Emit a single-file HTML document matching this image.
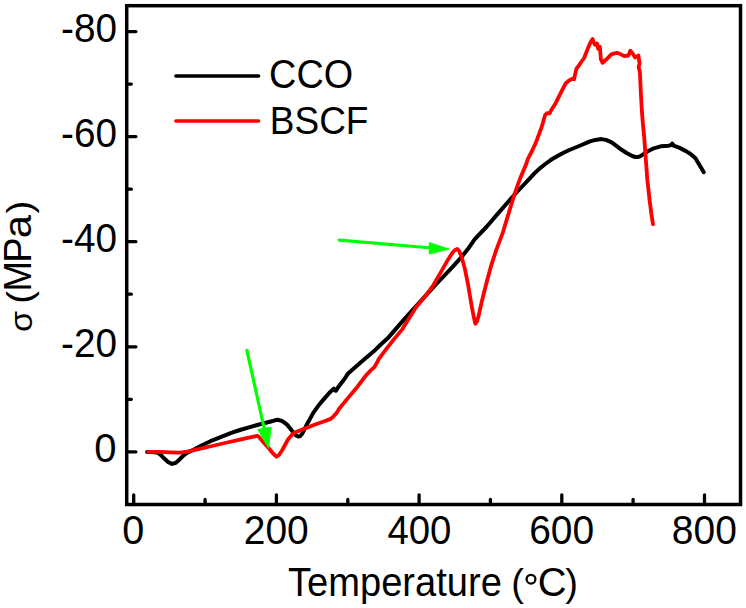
<!DOCTYPE html>
<html><head><meta charset="utf-8"><title>chart</title>
<style>
html,body{margin:0;padding:0;background:#fff;}
body{width:746px;height:608px;overflow:hidden;font-family:"Liberation Sans",sans-serif;}
svg{display:block;}
text{font-family:"Liberation Sans",sans-serif;font-size:40px;fill:#000;}
</style></head><body>
<svg width="746" height="608" viewBox="0 0 746 608">
<rect width="746" height="608" fill="#fff"/>
<g stroke="#000" stroke-width="3.3" stroke-linecap="round" fill="none">
<line x1="133.7" y1="504.5" x2="133.7" y2="494.8"/><line x1="205.1" y1="504.5" x2="205.1" y2="499.5"/><line x1="276.4" y1="504.5" x2="276.4" y2="494.8"/><line x1="347.8" y1="504.5" x2="347.8" y2="499.5"/><line x1="419.1" y1="504.5" x2="419.1" y2="494.8"/><line x1="490.4" y1="504.5" x2="490.4" y2="499.5"/><line x1="561.8" y1="504.5" x2="561.8" y2="494.8"/><line x1="633.1" y1="504.5" x2="633.1" y2="499.5"/><line x1="704.5" y1="504.5" x2="704.5" y2="494.8"/><line x1="126.7" y1="451.8" x2="135.9" y2="451.8"/><line x1="126.7" y1="399.3" x2="131.3" y2="399.3"/><line x1="126.7" y1="346.8" x2="135.9" y2="346.8"/><line x1="126.7" y1="294.2" x2="131.3" y2="294.2"/><line x1="126.7" y1="241.7" x2="135.9" y2="241.7"/><line x1="126.7" y1="189.2" x2="131.3" y2="189.2"/><line x1="126.7" y1="136.6" x2="135.9" y2="136.6"/><line x1="126.7" y1="84.1" x2="131.3" y2="84.1"/><line x1="126.7" y1="31.6" x2="135.9" y2="31.6"/>
</g>
<rect x="126.7" y="5.7" width="613.8" height="498.8" fill="none" stroke="#000" stroke-width="3.5"/>
<g>
<text transform="translate(94.30,462.40) scale(1.0000,1.0180)" style="font-size:40px">0</text>
<text transform="translate(61.06,357.35) scale(0.9685,1.0180)" style="font-size:40px">-20</text>
<text transform="translate(61.06,252.30) scale(0.9685,1.0180)" style="font-size:40px">-40</text>
<text transform="translate(61.06,147.25) scale(0.9685,1.0180)" style="font-size:40px">-60</text>
<text transform="translate(61.06,42.20) scale(0.9685,1.0180)" style="font-size:40px">-80</text>
<text transform="translate(122.32,544.00) scale(0.9895,1.0180)" style="font-size:40px">0</text>
<text transform="translate(243.75,544.00) scale(0.9746,1.0180)" style="font-size:40px">200</text>
<text transform="translate(387.44,544.00) scale(0.9594,1.0180)" style="font-size:40px">400</text>
<text transform="translate(529.15,544.00) scale(0.9746,1.0180)" style="font-size:40px">600</text>
<text transform="translate(671.85,544.00) scale(0.9746,1.0180)" style="font-size:40px">800</text>
<text transform="translate(269.11,88.40) scale(0.9447,1.0200)" style="font-size:40px">CCO</text>
<text transform="translate(269.83,134.00) scale(0.9245,0.9850)" style="font-size:40px">BSCF</text>
<text transform="translate(288.05,596.20) scale(0.9523,1.0000)" style="font-size:40px">Temperature</text>
<text transform="translate(511.25,596.20) scale(0.9500,0.9470)" style="font-size:40px">(</text>
<text transform="translate(537.81,596.30) scale(0.9960,1.0000)" style="font-size:40px">C</text>
<text transform="translate(565.35,596.20) scale(0.9500,0.9470)" style="font-size:40px">)</text>
<text transform="translate(30.80,291.49) rotate(-90) scale(0.9130,0.9750)" style="font-size:40px">M</text>
<text transform="translate(30.80,262.85) rotate(-90) scale(0.9500,0.9750)" style="font-size:40px">P</text>
<text transform="translate(30.80,238.20) rotate(-90) scale(1.0500,0.9750)" style="font-size:40px">a</text>
<text transform="translate(32.20,303.68) rotate(-90) scale(1.0971,1.0000)" style="font-size:35px">(</text>
<text transform="translate(32.20,213.57) rotate(-90) scale(1.1086,1.0000)" style="font-size:35px">)</text>
<text transform="translate(31.90,331.90) rotate(-90) scale(0.8500,0.8000)" style="font-size:40px">σ</text>
</g>
<circle cx="531" cy="579.2" r="4.4" fill="none" stroke="#000" stroke-width="2.3"/>
<g stroke-width="3.5" stroke-linecap="round" fill="none">
<line x1="175.9" y1="76" x2="258.6" y2="76" stroke="#000"/>
<line x1="175.9" y1="121.1" x2="258.6" y2="121.1" stroke="#f00"/>
</g>
<polyline points="147.1,451.9 152.0,452.0 156.0,452.4 158.5,453.2 161.0,455.2 164.0,458.3 168.0,462.0 172.0,463.9 175.5,463.0 179.0,460.0 183.0,455.8 186.5,453.2 189.0,452.0 195.0,449.0 202.0,445.3 210.5,441.2 220.0,437.4 230.6,433.2 240.0,430.0 250.7,426.8 260.0,424.2 270.8,421.5 275.0,420.3 277.6,419.8 281.0,420.6 284.0,422.3 286.8,424.4 290.0,428.2 293.0,432.0 295.5,435.0 297.8,436.4 300.0,436.2 302.0,434.0 304.1,430.0 307.0,424.0 309.7,419.4 313.4,412.6 318.3,405.8 324.5,398.4 329.4,392.8 333.8,388.6 335.2,390.6 336.0,390.8 338.1,387.3 345.0,378.3 348.1,373.4 362.6,360.7 375.3,349.9 380.0,345.3 387.9,338.1 399.8,324.4 408.0,315.2 416.2,306.1 425.0,296.3 434.3,286.2 443.0,277.0 452.4,267.2 461.2,257.4 467.5,249.6 474.8,239.2 486.4,227.0 497.9,213.6 507.8,202.2 514.4,194.7 522.6,186.0 530.0,178.2 534.0,173.8 539.5,168.6 545.3,164.0 551.0,159.8 557.5,156.0 563.0,153.0 569.3,150.0 579.2,146.0 590.0,141.4 595.3,139.9 601.4,139.1 606.0,139.9 611.7,142.4 616.0,145.6 621.6,149.8 627.0,153.2 631.4,155.6 635.2,157.0 637.5,157.1 640.0,156.4 646.9,151.8 653.8,148.3 660.7,146.3 668.8,145.7 671.5,144.8 672.3,143.6 673.6,145.6 679.1,147.6 686.0,151.1 690.6,154.0 695.3,158.0 698.7,163.7 702.2,169.5 703.7,172.2" fill="none" stroke="#000" stroke-width="4.0" stroke-linejoin="round" stroke-linecap="round"/>
<polyline points="148.1,451.8 160.0,451.9 170.0,452.3 180.3,452.6 187.0,451.6 195.0,449.8 210.0,446.5 225.0,443.0 240.0,439.6 250.0,437.4 255.0,436.3 256.8,435.9 258.5,436.4 261.0,439.5 264.0,443.0 268.8,448.3 272.5,452.8 276.4,456.7 279.0,455.0 282.0,450.5 285.0,445.0 288.0,439.5 292.4,434.2 296.0,432.0 301.0,429.9 308.0,427.2 315.9,424.3 323.0,421.7 330.7,418.9 333.5,416.3 336.9,412.6 339.1,408.7 348.1,397.9 357.2,387.0 366.2,375.2 370.5,370.6 374.4,367.1 376.5,363.5 378.9,358.9 384.3,351.7 393.4,339.9 402.4,329.1 408.0,319.9 416.2,307.0 425.3,296.1 433.2,285.3 440.6,272.6 447.8,259.9 452.4,252.7 455.0,250.0 457.3,249.0 459.3,251.2 461.4,256.4 464.7,267.9 468.0,284.3 471.3,304.0 473.8,317.2 475.4,323.7 477.0,321.5 478.7,315.5 482.0,300.7 486.1,284.3 491.0,266.2 496.3,249.8 502.9,232.3 509.4,210.9 514.4,194.4 519.6,179.8 525.9,164.8 527.9,158.8 532.5,150.0 535.8,142.8 541.7,127.0 545.2,114.8 547.0,113.2 549.6,113.4 551.0,110.5 555.5,103.4 562.4,89.6 565.8,83.2 569.0,80.5 572.5,78.8 574.1,79.2 574.8,75.6 576.5,68.5 578.8,65.7 580.5,63.0 584.1,58.0 588.8,46.1 591.0,41.5 592.6,39.1 593.8,42.5 594.9,44.7 596.9,43.4 598.2,48.8 599.9,46.8 600.9,59.5 602.6,62.8 604.5,61.0 606.9,58.8 611.6,54.1 617.0,52.8 620.3,54.1 624.3,56.1 628.4,55.5 630.4,50.8 633.1,54.1 635.1,57.5 638.4,55.5 639.6,63.5 638.6,67.0 639.9,72.0 640.4,83.6 641.0,96.0 641.8,110.0 643.0,125.0 644.2,137.0 645.4,154.0 646.7,171.0 647.3,179.7 648.3,188.5 649.7,201.0 651.4,214.0 653.0,224.2" fill="none" stroke="#f00" stroke-width="3.8" stroke-linejoin="round" stroke-linecap="round"/>
<g stroke="#0f0" stroke-width="3.2" stroke-linecap="round" fill="#0f0">
<line x1="246.9" y1="350.3" x2="264.5" y2="430" />
<polygon points="268.4,447.9 258,429.5 270.7,427.2" stroke-width="1" stroke-linejoin="round"/>
<line x1="339.4" y1="240.2" x2="432" y2="248" />
<polygon points="448.6,249.0 429.3,242.6 429.3,253.8" stroke-width="1" stroke-linejoin="round"/>
</g>
</svg>
</body></html>
